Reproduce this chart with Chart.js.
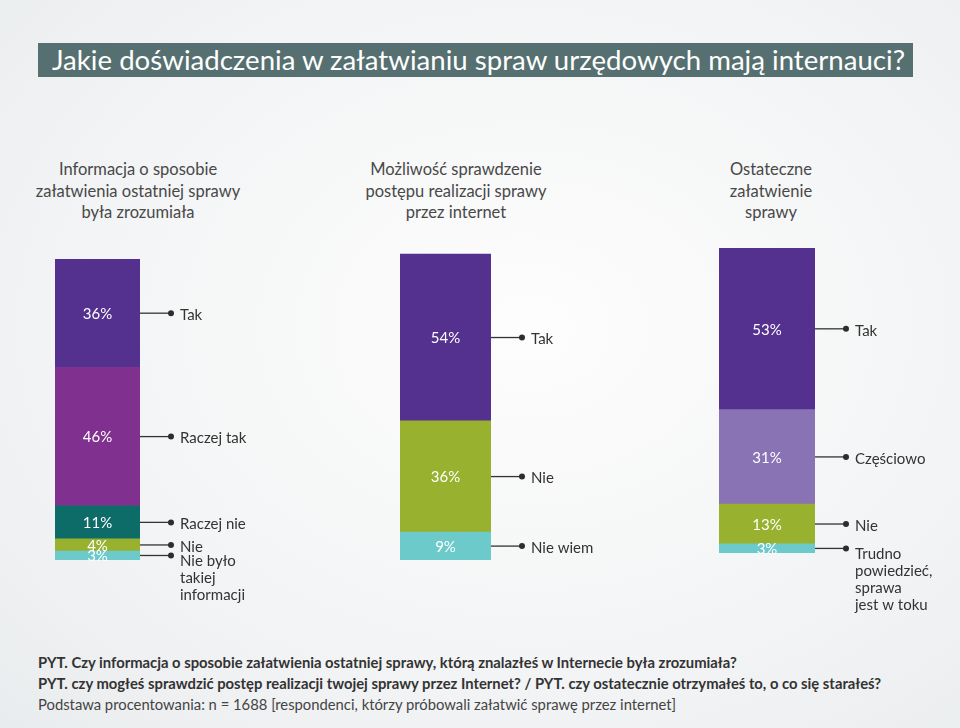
<!DOCTYPE html>
<html lang="pl">
<head>
<meta charset="utf-8">
<script src="https://cdn.jsdelivr.net/npm/chart.js@4"></script>
<style>
  html, body { margin: 0; padding: 0; }
  body {
    width: 960px; height: 728px; position: relative; overflow: hidden;
    font-family: Lato, "Open Sans", sans-serif;
    background: radial-gradient(ellipse at 55% 45%, #fdfdfd 0%, #f3f4f5 60%, #e9ecee 100%);
  }
  .title {
    position: absolute; left: 38px; top: 43px; width: 875px; height: 34px;
    background: #566f70; color: #fff; font-size: 26px; line-height: 34px;
    white-space: nowrap; overflow: hidden;
  }
  .title span { display: inline-block; margin-left: 14px; transform-origin: left center; }
  .question {
    position: absolute; top: 159px; width: 240px; margin-left: -120px;
    text-align: center; color: #484848; font-size: 16.5px; line-height: 21.5px; font-weight: 400;
  }
  .chart-box { position: absolute; top: 240px; height: 380px; }
  .notes {
    position: absolute; left: 38px; top: 652px; color: #333; font-size: 14.8px; line-height: 21px;
    white-space: nowrap;
  }
  .notes .q { font-weight: 700; }
  .notes .base { color: #444; }
</style>
</head>
<body>
<div class="title"><span id="title-text">Jakie doświadczenia w załatwianiu spraw urzędowych mają internauci?</span></div>

<div class="question" style="left:138px">Informacja o sposobie<br>załatwienia ostatniej sprawy<br>była zrozumiała</div>
<div class="question" style="left:456px">Możliwość sprawdzenie<br>postępu realizacji sprawy<br>przez internet</div>
<div class="question" style="left:771px">Ostateczne<br>załatwienie<br>sprawy</div>

<div class="chart-box" style="left:55px;width:230px"><canvas id="chart1"></canvas></div>
<div class="chart-box" style="left:400px;width:230px"><canvas id="chart2"></canvas></div>
<div class="chart-box" style="left:719px;width:241px"><canvas id="chart3"></canvas></div>

<div class="notes">
  <div class="q">PYT. Czy informacja o sposobie załatwienia ostatniej sprawy, którą znalazłeś w Internecie była zrozumiała?</div>
  <div class="q">PYT. czy mogłeś sprawdzić postęp realizacji twojej sprawy przez Internet? / PYT. czy ostatecznie otrzymałeś to, o co się starałeś?</div>
  <div class="base">Podstawa procentowania: n = 1688 [respondenci, którzy próbowali załatwić sprawę przez internet]</div>
</div>

<script>
// Data (segments listed top to bottom)
const labels1 = ['Tak', 'Raczej tak', 'Raczej nie', 'Nie', 'Nie było\ntakiej\ninformacji'];
const values1 = [36, 46, 11, 4, 3];
const colors1 = ['#55318f', '#80308f', '#0e6c68', '#98b12f', '#6ccaca'];

const labels2 = ['Tak', 'Nie', 'Nie wiem'];
const values2 = [54, 36, 9];
const colors2 = ['#55318f', '#98b12f', '#6ccaca'];

const labels3 = ['Tak', 'Częściowo', 'Nie', 'Trudno\npowiedzieć,\nsprawa\njest w toku'];
const values3 = [53, 31, 13, 3];
const colors3 = ['#55318f', '#8a73b5', '#98b12f', '#6ccaca'];

// Squeeze title to the banner width
const fitTitle = () => {
  const span = document.getElementById('title-text');
  const target = 853;
  const w = span.getBoundingClientRect().width;
  span.style.transform = `scaleX(${target / w})`;
};

// Value labels inside bars + leader lines with category names
const leaderPlugin = {
  id: 'leaders',
  afterDatasetsDraw(chart) {
    const ctx = chart.ctx;
    ctx.save();
    chart.data.datasets.forEach((ds, i) => {
      const bar = chart.getDatasetMeta(i).data[0];
      const cy = (bar.y + bar.base) / 2;
      const right = bar.x + bar.width / 2;

      ctx.fillStyle = '#ffffff';
      ctx.font = '15px Lato';
      ctx.textAlign = 'center';
      ctx.textBaseline = 'middle';
      ctx.fillText(ds.data[0] + '%', bar.x, cy + 1);

      ctx.strokeStyle = '#333';
      ctx.lineWidth = 1.3;
      ctx.beginPath();
      ctx.moveTo(right, cy);
      ctx.lineTo(right + 31, cy);
      ctx.stroke();
      ctx.fillStyle = '#2d2d2d';
      ctx.beginPath();
      ctx.arc(right + 31, cy, 3, 0, Math.PI * 2);
      ctx.fill();

      const lines = ds.label.split('\n');
      ctx.fillStyle = '#333';
      ctx.textAlign = 'left';
      ctx.font = '15px Lato';
      const y0 = lines.length > 1 ? cy + 6 : cy + 2;
      lines.forEach((ln, k) => ctx.fillText(ln, right + 40, y0 + k * 17));
    });
    ctx.restore();
  }
};

const makeChart = (id, labels, values, colors, pad) => {
  // stack from the bottom up, so reverse the top-to-bottom lists
  const datasets = labels.map((lab, i) => ({
    label: lab,
    data: [values[i]],
    backgroundColor: colors[i],
    barPercentage: 1,
    categoryPercentage: 1
  })).reverse();

  new Chart(document.getElementById(id), {
    type: 'bar',
    data: { labels: [''], datasets },
    options: {
      responsive: true,
      maintainAspectRatio: false,
      animation: false,
      layout: { padding: pad },
      plugins: { legend: { display: false }, tooltip: { enabled: false } },
      scales: {
        x: { stacked: true, display: false },
        y: { stacked: true, display: false, min: 0, max: 100 }
      }
    },
    plugins: [leaderPlugin]
  });
};

document.addEventListener('DOMContentLoaded', () => {
  fitTitle();
  makeChart('chart1', labels1, values1, colors1, { top: 19, bottom: 60, left: 0, right: 145 });
  makeChart('chart2', labels2, values2, colors2, { top: 11, bottom: 60, left: 0, right: 139 });
  makeChart('chart3', labels3, values3, colors3, { top: 8, bottom: 67, left: 0, right: 145 });
});
</script>
</body>
</html>
